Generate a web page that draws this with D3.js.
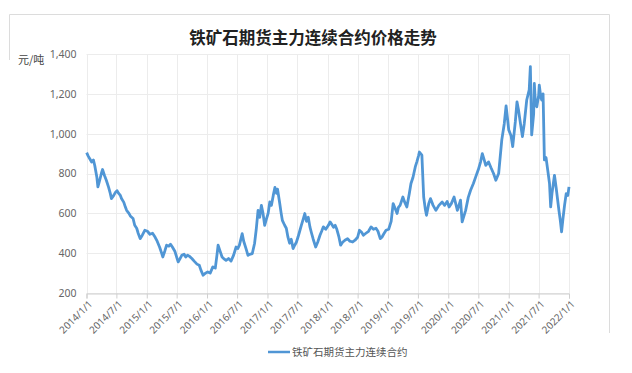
<!DOCTYPE html>
<html>
<head>
<meta charset="utf-8">
<script src="https://cdn.jsdelivr.net/npm/d3@7/dist/d3.min.js"></script>
<style>
  body { margin: 0; background: #fff; }
  #chart { width: 632px; height: 373px; }
</style>
</head>
<body>
<div id="chart"></div>
<script>
const title = '铁矿石期货主力连续合约价格走势';
const seriesName = '铁矿石期货主力连续合约';
const unitLabel = '元/吨';
const yTicks = [200, 400, 600, 800, 1000, 1200, 1400];
const xTickLabels = ['2014/1/1', '2014/7/1', '2015/1/1', '2015/7/1', '2016/1/1', '2016/7/1',
  '2017/1/1', '2017/7/1', '2018/1/1', '2018/7/1', '2019/1/1', '2019/7/1', '2020/1/1',
  '2020/7/1', '2021/1/1', '2021/7/1', '2022/1/1'];

// price, [date, yuan/ton]
const prices = [
  ['2014-01-02', 905], ['2014-01-10', 890], ['2014-01-20', 875], ['2014-02-01', 858], ['2014-02-12', 868],
  ['2014-02-20', 840], ['2014-03-05', 780], ['2014-03-11', 733], ['2014-03-20', 760], ['2014-04-01', 800],
  ['2014-04-08', 820], ['2014-04-20', 790], ['2014-05-01', 766], ['2014-05-15', 730], ['2014-05-25', 700],
  ['2014-06-01', 674], ['2014-06-15', 690], ['2014-06-25', 705], ['2014-07-05', 714], ['2014-07-15', 700],
  ['2014-07-25', 690], ['2014-08-01', 674], ['2014-08-15', 655], ['2014-08-25', 630], ['2014-09-01', 615],
  ['2014-09-15', 600], ['2014-09-25', 585], ['2014-10-10', 574], ['2014-10-20', 540], ['2014-11-01', 525],
  ['2014-11-10', 500], ['2014-11-22', 473], ['2014-12-05', 490], ['2014-12-20', 515],
  ['2015-01-05', 510], ['2015-01-20', 495], ['2015-02-05', 500], ['2015-02-20', 481], ['2015-03-05', 460],
  ['2015-03-20', 430], ['2015-04-01', 400], ['2015-04-08', 381], ['2015-04-20', 410], ['2015-05-01', 440],
  ['2015-05-15', 435], ['2015-05-25', 445], ['2015-06-05', 431], ['2015-06-20', 410], ['2015-07-01', 380],
  ['2015-07-10', 356], ['2015-07-20', 370], ['2015-08-01', 389], ['2015-08-15', 395], ['2015-08-25', 381],
  ['2015-09-05', 390], ['2015-09-15', 385], ['2015-10-01', 373], ['2015-10-15', 360], ['2015-11-01', 345],
  ['2015-11-15', 339], ['2015-11-25', 315], ['2015-12-08', 289], ['2015-12-20', 298],
  ['2016-01-05', 306], ['2016-01-20', 300], ['2016-02-05', 331], ['2016-02-20', 325], ['2016-03-01', 390],
  ['2016-03-08', 440], ['2016-03-20', 410], ['2016-04-01', 381], ['2016-04-15', 370], ['2016-04-25', 364],
  ['2016-05-10', 373], ['2016-05-25', 360], ['2016-06-10', 390], ['2016-06-25', 431], ['2016-07-05', 423],
  ['2016-07-15', 440], ['2016-08-01', 498], ['2016-08-10', 460], ['2016-08-25', 420], ['2016-09-05', 389],
  ['2016-09-15', 394], ['2016-10-01', 398], ['2016-10-15', 450], ['2016-10-25', 520], ['2016-11-05', 615],
  ['2016-11-15', 580], ['2016-11-25', 640], ['2016-12-05', 600], ['2016-12-15', 540], ['2016-12-25', 570],
  ['2017-01-05', 600], ['2017-01-15', 657], ['2017-01-25', 640], ['2017-02-05', 690], ['2017-02-15', 730],
  ['2017-02-25', 700], ['2017-03-03', 721], ['2017-03-15', 657], ['2017-03-25', 600], ['2017-04-01', 565],
  ['2017-04-15', 540], ['2017-04-25', 525], ['2017-05-05', 480], ['2017-05-15', 450], ['2017-05-25', 470],
  ['2017-06-05', 423], ['2017-06-15', 440], ['2017-06-25', 455], ['2017-07-05', 481], ['2017-07-15', 510],
  ['2017-07-25', 540], ['2017-08-05', 570], ['2017-08-15', 599], ['2017-08-25', 560], ['2017-09-05', 580],
  ['2017-09-15', 532], ['2017-09-25', 500], ['2017-10-05', 470], ['2017-10-20', 431], ['2017-11-01', 455],
  ['2017-11-15', 490], ['2017-11-25', 510], ['2017-12-05', 532], ['2017-12-20', 520],
  ['2018-01-05', 540], ['2018-01-15', 557], ['2018-01-25', 545], ['2018-02-05', 530], ['2018-02-15', 540],
  ['2018-02-25', 520], ['2018-03-10', 480], ['2018-03-20', 440], ['2018-04-01', 455], ['2018-04-15', 465],
  ['2018-05-01', 473], ['2018-05-15', 460], ['2018-06-01', 456], ['2018-06-15', 465], ['2018-07-01', 480],
  ['2018-07-12', 515], ['2018-07-25', 505], ['2018-08-05', 490], ['2018-08-20', 500], ['2018-09-05', 510],
  ['2018-09-20', 532], ['2018-10-05', 520], ['2018-10-20', 525], ['2018-11-01', 510], ['2018-11-15', 473],
  ['2018-11-25', 480], ['2018-12-05', 495], ['2018-12-20', 515],
  ['2019-01-05', 520], ['2019-01-20', 560], ['2019-02-01', 649], ['2019-02-15', 620], ['2019-02-25', 599],
  ['2019-03-05', 630], ['2019-03-15', 640], ['2019-04-01', 682], ['2019-04-10', 660], ['2019-04-25', 632],
  ['2019-05-10', 700], ['2019-05-20', 750], ['2019-06-01', 780], ['2019-06-15', 833], ['2019-06-25', 860],
  ['2019-07-05', 890], ['2019-07-10', 908], ['2019-07-25', 892], ['2019-08-05', 682], ['2019-08-15', 620],
  ['2019-08-22', 590], ['2019-09-05', 650], ['2019-09-15', 674], ['2019-10-01', 640], ['2019-10-18', 615],
  ['2019-11-05', 640], ['2019-11-25', 657], ['2019-12-10', 640], ['2019-12-25', 660],
  ['2020-01-06', 632], ['2020-01-20', 650], ['2020-02-05', 682], ['2020-02-25', 615], ['2020-03-15', 666],
  ['2020-03-25', 557], ['2020-04-15', 615], ['2020-05-01', 680], ['2020-05-15', 716], ['2020-06-01', 750],
  ['2020-06-15', 783], ['2020-07-01', 820], ['2020-07-15', 860], ['2020-07-25', 900], ['2020-08-05', 870],
  ['2020-08-15', 841], ['2020-09-01', 858], ['2020-09-15', 830], ['2020-10-01', 800], ['2020-10-15', 766],
  ['2020-11-01', 800], ['2020-11-20', 969], ['2020-12-05', 1050], ['2020-12-16', 1140], ['2020-12-24', 1080],
  ['2021-01-01', 1019], ['2021-01-15', 990], ['2021-01-25', 935], ['2021-02-10', 1060], ['2021-02-20', 1160],
  ['2021-03-01', 1120], ['2021-03-10', 1068], ['2021-03-25', 985], ['2021-04-05', 1050], ['2021-04-20', 1169],
  ['2021-05-05', 1220], ['2021-05-12', 1337], ['2021-05-20', 994], ['2021-06-01', 1100], ['2021-06-05', 1252],
  ['2021-06-12', 1150], ['2021-06-20', 1135], ['2021-07-01', 1190], ['2021-07-05', 1244], ['2021-07-15', 1180],
  ['2021-07-20', 1169], ['2021-07-28', 1200], ['2021-08-05', 868], ['2021-08-15', 880], ['2021-08-25', 818],
  ['2021-09-05', 750], ['2021-09-12', 632], ['2021-09-20', 700], ['2021-10-05', 791], ['2021-10-15', 730],
  ['2021-11-01', 615], ['2021-11-10', 560], ['2021-11-17', 507], ['2021-11-25', 570], ['2021-12-05', 640],
  ['2021-12-15', 699], ['2021-12-25', 690], ['2022-01-01', 733],
];

const width = 632;
const height = 373;
const margin = { top: 54, right: 63, bottom: 80, left: 86.5 };
const lineColor = '#5096d5';
const font = '"Noto Sans CJK SC", "Noto Sans", sans-serif';

const parseDay = d3.timeParse('%Y-%m-%d');
const parseTick = d3.timeParse('%Y/%-m/%-d');
const data = prices.map((d) => ({ date: parseDay(d[0]), value: d[1] }));
const tickDates = xTickLabels.map((t) => parseTick(t));

const svg = d3.select('#chart')
  .append('svg')
  .attr('width', width)
  .attr('height', height)
  .style('font-family', font);

// outer frame (top, right, short left piece)
svg.append('path')
  .attr('d', 'M9.5,60 V14.5 H609.5 V333')
  .attr('fill', 'none')
  .attr('stroke', '#dcdcdc')
  .attr('stroke-width', 1);

svg.append('text')
  .attr('x', 313)
  .attr('y', 44)
  .attr('text-anchor', 'middle')
  .attr('font-size', '16.5px')
  .attr('font-weight', 'bold')
  .attr('fill', '#222')
  .text(title);

const x = d3.scaleTime()
  .domain([tickDates[0], tickDates[tickDates.length - 1]])
  .range([margin.left, width - margin.right]);

const y = d3.scaleLinear()
  .domain([200, 1400])
  .range([height - margin.bottom, margin.top]);

// horizontal grid
svg.append('g')
  .selectAll('line')
  .data(yTicks)
  .enter()
  .append('line')
  .attr('x1', margin.left)
  .attr('x2', width - margin.right)
  .attr('y1', (d) => Math.round(y(d)) + 0.5)
  .attr('y2', (d) => Math.round(y(d)) + 0.5)
  .attr('stroke', '#ececec');

// vertical grid
svg.append('g')
  .selectAll('line')
  .data(tickDates)
  .enter()
  .append('line')
  .attr('x1', (d) => Math.round(x(d)) + 0.5)
  .attr('x2', (d) => Math.round(x(d)) + 0.5)
  .attr('y1', margin.top)
  .attr('y2', height - margin.bottom)
  .attr('stroke', '#ececec');

// x axis
const xAxis = svg.append('g')
  .attr('transform', `translate(0,${Math.round(height - margin.bottom) + 0.5})`)
  .call(d3.axisBottom(x).tickValues(tickDates).tickSize(5).tickFormat((d, i) => xTickLabels[i]));
xAxis.select('.domain').attr('stroke', '#cfcfcf');
xAxis.selectAll('.tick line').attr('stroke', '#cfcfcf');
xAxis.selectAll('text')
  .attr('fill', '#666')
  .attr('font-size', '10px')
  .attr('font-family', '"Noto Sans", sans-serif')
  .attr('transform', 'translate(-2,3)rotate(-45)')
  .attr('dy', '0.35em')
  .style('text-anchor', 'end');

// y axis
const yAxis = svg.append('g')
  .attr('transform', `translate(${margin.left},0)`)
  .call(d3.axisLeft(y).tickValues(yTicks).tickSize(0).tickPadding(10).tickFormat(d3.format(',')));
yAxis.select('.domain').remove();
yAxis.selectAll('text')
  .attr('fill', '#666')
  .attr('font-size', '10.5px')
  .attr('font-family', '"Noto Sans", sans-serif');

svg.append('text')
  .attr('x', 18)
  .attr('y', 64)
  .attr('font-size', '11px')
  .attr('fill', '#444')
  .text(unitLabel);

// price line
const line = d3.line()
  .x((d) => x(d.date))
  .y((d) => y(d.value));

svg.append('path')
  .datum(data)
  .attr('d', line)
  .attr('fill', 'none')
  .attr('stroke', lineColor)
  .attr('stroke-width', 2.8)
  .attr('stroke-linejoin', 'round');

// legend
const legend = svg.append('g').attr('transform', 'translate(268,352)');
legend.append('line')
  .attr('x1', 0)
  .attr('x2', 22)
  .attr('stroke', lineColor)
  .attr('stroke-width', 2.5);
legend.append('text')
  .attr('x', 24)
  .attr('dy', '0.35em')
  .attr('font-size', '10.5px')
  .attr('fill', '#555')
  .text(seriesName);
</script>
</body>
</html>
